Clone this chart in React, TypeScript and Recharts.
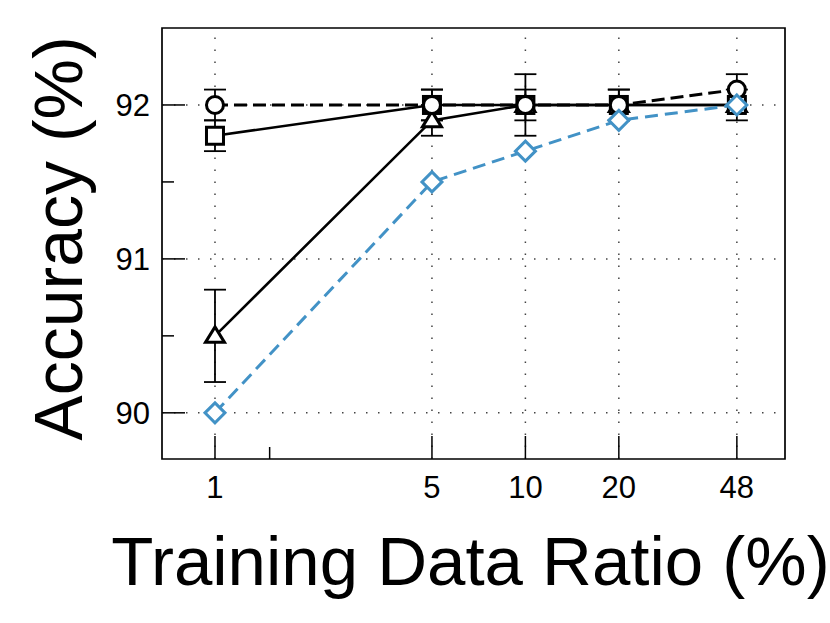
import React from "react";
import {
  LineChart,
  Line,
  XAxis,
  YAxis,
  ErrorBar,
  ReferenceLine,
  ReferenceArea,
  Label,
} from "recharts";

const RATIOS = [1, 5, 10, 20, 48];
const CIRCLE = [92.0, 92.0, 92.0, 92.0, 92.1];
const CIRCLE_ERR = [0.1, 0.1, 0.1, 0.1, 0.1];
const SQUARE = [91.8, 92.0, 92.0, 92.0, 92.0];
const SQUARE_ERR = [0.1, 0.1, 0.2, 0.1, 0.1];
const TRIANGLE = [90.5, 91.9, 92.0, 92.0, 92.0];
const TRIANGLE_ERR = [0.3, 0.1, 0, 0, 0];
const DIAMOND = [90.0, 91.5, 91.7, 91.9, 92.0];

const X_TICKS = [1, 1.5, 5, 10, 20, 48];
const X_LABELED = [1, 5, 10, 20, 48];
const Y_TICKS = [90, 90.5, 91, 91.5, 92];
const Y_LABELED = [90, 91, 92];
const X_DOMAIN = [0.675, 68.6];
const Y_DOMAIN = [89.7, 92.5];

const X_TITLE = "Training Data Ratio (%)";
const Y_TITLE = "Accuracy (%)";

const FONT = "'Liberation Sans', Arial, Helvetica, sans-serif";
const BLUE = "#4292c6";

const data = RATIOS.map((r, i) => ({
  ratio: r,
  circle: CIRCLE[i],
  circleErr: CIRCLE_ERR[i],
  square: SQUARE[i],
  squareErr: SQUARE_ERR[i],
  triangle: TRIANGLE[i],
  triangleErr: TRIANGLE_ERR[i],
  diamond: DIAMOND[i],
}));

const XTick = (props: any) => {
  const { x, y, payload } = props;
  const major = X_LABELED.includes(payload.value);
  return (
    <g>
      <line x1={x} x2={x} y1={y} y2={y - (major ? 23 : 12)} stroke="#000" strokeWidth={1.5} />
      {major && (
        <text x={x} y={y + 39} textAnchor="middle" fontSize={31} fontFamily={FONT} fill="#000">
          {payload.value}
        </text>
      )}
    </g>
  );
};

const YTick = (props: any) => {
  const { x, y, payload } = props;
  const major = Y_LABELED.includes(payload.value);
  return (
    <g>
      <line x1={x} x2={x + (major ? 23 : 12)} y1={y} y2={y} stroke="#000" strokeWidth={1.5} />
      {major && (
        <text x={x - 12} y={y + 11} textAnchor="end" fontSize={31} fontFamily={FONT} fill="#000">
          {payload.value}
        </text>
      )}
    </g>
  );
};

const CircleDot = (p: any) => (
  <circle key={`c${p.index}`} cx={p.cx} cy={p.cy} r={8.5} fill="#fff" stroke="#000" strokeWidth={3} />
);
const SquareDot = (p: any) => (
  <rect key={`s${p.index}`} x={p.cx - 8.5} y={p.cy - 8.5} width={17} height={17} fill="#fff" stroke="#000" strokeWidth={3} />
);
const TriangleDot = (p: any) => (
  <polygon
    key={`t${p.index}`}
    points={`${p.cx},${p.cy - 9} ${p.cx + 9.5},${p.cy + 6.5} ${p.cx - 9.5},${p.cy + 6.5}`}
    fill="#fff"
    stroke="#000"
    strokeWidth={3}
    strokeLinejoin="miter"
  />
);
const DiamondDot = (p: any) => (
  <polygon
    key={`d${p.index}`}
    points={`${p.cx},${p.cy - 10} ${p.cx + 10},${p.cy} ${p.cx},${p.cy + 10} ${p.cx - 10},${p.cy}`}
    fill="#fff"
    stroke={BLUE}
    strokeWidth={3}
  />
);

const XTitle = (props: any) => {
  const vb = props.viewBox;
  return (
    <text x={vb.x + vb.width / 2 - 3} y={vb.y + 126} textAnchor="middle" fontSize={69} fontFamily={FONT} fill="#000">
      {X_TITLE}
    </text>
  );
};

const YTitle = (props: any) => {
  const vb = props.viewBox;
  const cx = vb.x + 82;
  const cy = vb.y + vb.height / 2 - 5;
  return (
    <text x={cx} y={cy} transform={`rotate(-90, ${cx}, ${cy})`} textAnchor="middle" fontSize={68} fontFamily={FONT} fill="#000">
      {Y_TITLE}
    </text>
  );
};

const GRID = { stroke: "#444", strokeDasharray: "1.5 10.5", strokeWidth: 1.5 };

export default function App() {
  return (
    <div style={{ position: "absolute", left: 0, top: 0, background: "#fff" }}>
      <LineChart width={830} height={623} data={data} margin={{ top: 28, right: 45, bottom: 0, left: 0 }}>
        <XAxis
          dataKey="ratio"
          type="number"
          scale="log"
          domain={X_DOMAIN}
          ticks={X_TICKS}
          allowDataOverflow
          height={164}
          tickLine={false}
          axisLine={false}
          tickSize={0}
          tickMargin={0}
          tick={<XTick />}
          interval={0}
        >
          <Label content={<XTitle />} />
        </XAxis>
        <YAxis
          type="number"
          domain={Y_DOMAIN}
          ticks={Y_TICKS}
          allowDataOverflow
          width={162}
          tickLine={false}
          axisLine={false}
          tickSize={0}
          tickMargin={0}
          tick={<YTick />}
          interval={0}
        >
          <Label content={<YTitle />} />
        </YAxis>
        {X_LABELED.map((v) => (
          <ReferenceLine key={`gx${v}`} x={v} {...GRID} />
        ))}
        {Y_LABELED.map((v) => (
          <ReferenceLine key={`gy${v}`} y={v} {...GRID} />
        ))}
        <ReferenceArea
          x1={X_DOMAIN[0]}
          x2={X_DOMAIN[1]}
          y1={Y_DOMAIN[0]}
          y2={Y_DOMAIN[1]}
          fill="none"
          fillOpacity={0}
          stroke="#000"
          strokeWidth={1.7}
        />
        <Line dataKey="triangle" stroke="#000" strokeWidth={2.6} dot={TriangleDot} isAnimationActive={false}>
          <ErrorBar dataKey="triangleErr" width={11} strokeWidth={1.8} stroke="#000" direction="y" />
        </Line>
        <Line dataKey="square" stroke="#000" strokeWidth={2.6} dot={SquareDot} isAnimationActive={false}>
          <ErrorBar dataKey="squareErr" width={11} strokeWidth={1.8} stroke="#000" direction="y" />
        </Line>
        <Line dataKey="circle" stroke="#000" strokeWidth={3} strokeDasharray="13 6" dot={CircleDot} isAnimationActive={false}>
          <ErrorBar dataKey="circleErr" width={11} strokeWidth={1.8} stroke="#000" direction="y" />
        </Line>
        <Line dataKey="diamond" stroke={BLUE} strokeWidth={3} strokeDasharray="13 7" dot={DiamondDot} isAnimationActive={false} />
      </LineChart>
    </div>
  );
}
